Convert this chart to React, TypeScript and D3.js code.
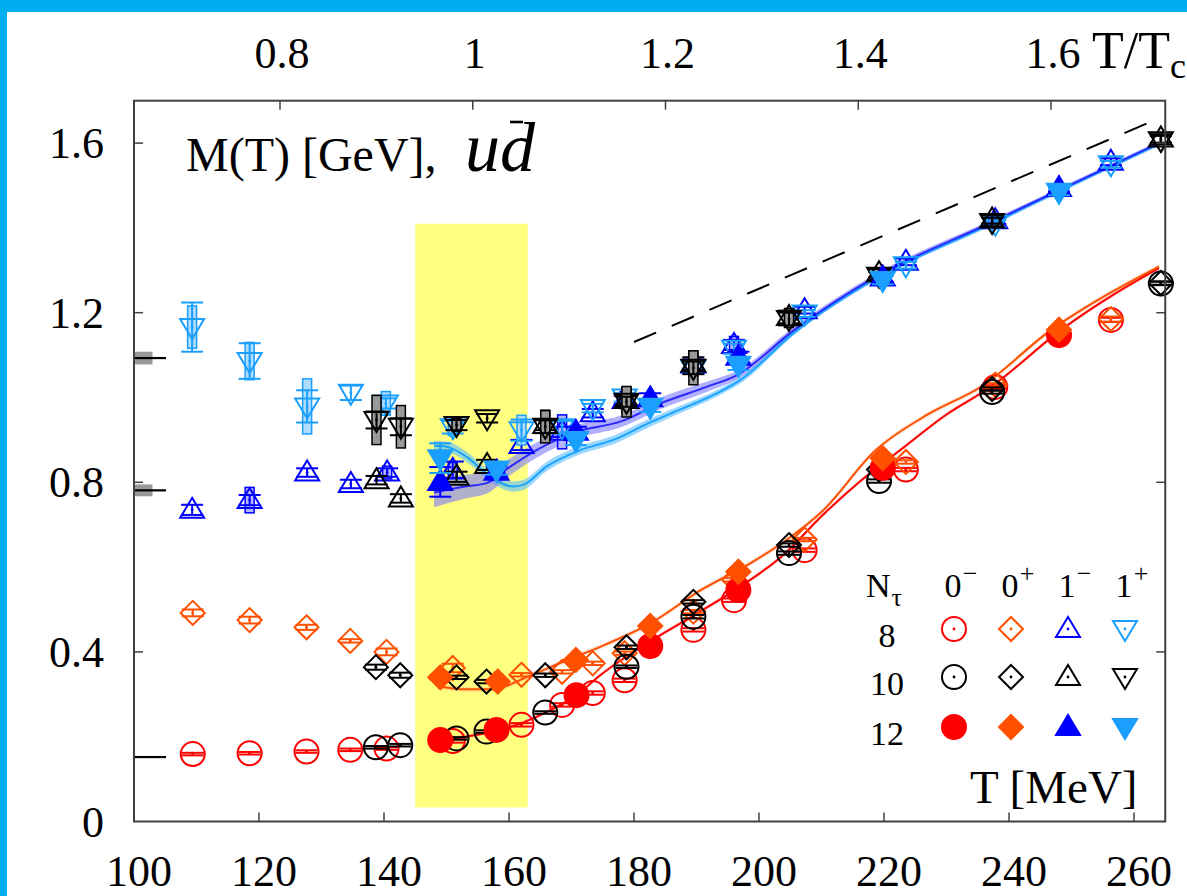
import React from 'react';
import * as d3 from 'd3';

// ---- axes ----
const TC = 154.2; // MeV, pseudo-critical temperature for the T/Tc axis
const tTicks = [120, 140, 160, 180, 200, 220, 240, 260];
const tLabels = [100, 120, 140, 160, 180, 200, 220, 240, 260];
const mTicks = [0.4, 0.8, 1.2, 1.6];
const mLabels = [0, 0.4, 0.8, 1.2, 1.6];
const ratioTicks = [0.8, 1, 1.2, 1.4, 1.6];

// crossover region
const tcBand = { t0: 145, t1: 163, m0: 0.033, m1: 1.41 };

// vacuum masses [M, uncertainty]
const vacuumMasses: [number, number][] = [
  [1.093, 0.015],
  [0.781, 0.014],
  [0.152, 0],
];

// free-field limit 2πT
const freeLimit: [number, number][] = [
  [180, 1.131],
  [262.5, 1.649],
];

// ---- data: [T, M, stat error, systematic half-width] ----
type Pt = number[];

const ps8: Pt[] = [
  [109.4, 0.159, 0.003], [118.5, 0.161, 0.003], [127.6, 0.165, 0.003], [134.6, 0.169, 0.003],
  [140.4, 0.172, 0.003], [151.0, 0.19, 0.004], [162.0, 0.228, 0.004], [168.5, 0.275, 0.004],
  [173.4, 0.303, 0.004], [178.5, 0.333, 0.004], [189.5, 0.452, 0.004], [196.0, 0.522, 0.004],
  [207.3, 0.64, 0.004], [223.5, 0.83, 0.004], [237.8, 1.025, 0.004], [256.3, 1.183, 0.005],
];
const ps10: Pt[] = [
  [138.7, 0.175, 0.003], [142.6, 0.18, 0.003], [151.6, 0.196, 0.003], [156.4, 0.212, 0.003],
  [165.8, 0.257, 0.003], [178.8, 0.365, 0.003], [189.5, 0.483, 0.004], [204.8, 0.633, 0.004],
  [219.2, 0.803, 0.004], [237.3, 1.013, 0.004], [264.3, 1.269, 0.004],
];
const ps12: Pt[] = [
  [149.0, 0.192, 0.003], [158.0, 0.216, 0.003], [170.8, 0.298, 0.003], [182.6, 0.414, 0.003],
  [196.7, 0.546, 0.003], [219.8, 0.834, 0.003], [248.0, 1.147, 0.003],
];

const s8: Pt[] = [
  [109.4, 0.492, 0.008], [118.5, 0.475, 0.008], [127.6, 0.458, 0.006], [134.6, 0.426, 0.004],
  [140.4, 0.4, 0.008], [151.0, 0.362, 0.01], [162.0, 0.346, 0.004], [168.5, 0.353, 0.004],
  [173.4, 0.373, 0.004], [178.5, 0.397, 0.004], [189.5, 0.495, 0.004], [196.0, 0.57, 0.004],
  [207.3, 0.665, 0.004], [223.5, 0.848, 0.004], [237.8, 1.03, 0.004], [256.3, 1.185, 0.006],
];
const s10: Pt[] = [
  [138.7, 0.364, 0.006], [142.6, 0.345, 0.006], [151.6, 0.34, 0.004], [156.4, 0.33, 0.004],
  [165.8, 0.345, 0.004], [178.8, 0.411, 0.004], [189.5, 0.518, 0.004], [204.8, 0.652, 0.004],
  [219.2, 0.83, 0.004], [237.3, 1.02, 0.004], [264.3, 1.27, 0.004],
];
const s12: Pt[] = [
  [149.0, 0.34, 0.004], [158.2, 0.33, 0.004], [170.7, 0.381, 0.004], [182.6, 0.461, 0.004],
  [196.7, 0.589, 0.004], [219.8, 0.857, 0.004], [248.0, 1.16, 0.004],
];

const v8: Pt[] = [
  [109.3, 0.735, 0.012, 0], [118.5, 0.758, 0.012, 0.03], [127.7, 0.823, 0.01, 0], [134.7, 0.796, 0.01, 0],
  [140.5, 0.823, 0.01, 0.015], [151.0, 0.829, 0.02, 0.018], [162.0, 0.888, 0.012, 0], [168.5, 0.919, 0.012, 0.04],
  [173.4, 0.963, 0.01, 0], [178.5, 0.994, 0.01, 0.02], [189.5, 1.078, 0.012, 0.02], [196.0, 1.124, 0.012, 0.02],
  [207.3, 1.206, 0.008, 0], [223.5, 1.32, 0.008, 0], [237.8, 1.418, 0.008, 0], [256.3, 1.556, 0.008, 0],
];
const v10: Pt[] = [
  [138.8, 0.805, 0.01, 0], [142.7, 0.762, 0.01, 0], [151.6, 0.813, 0.012, 0], [156.5, 0.841, 0.012, 0],
  [165.8, 0.935, 0.012, 0.035], [178.8, 0.994, 0.012, 0.03], [189.5, 1.08, 0.015, 0.03], [204.8, 1.19, 0.015, 0.02],
  [219.2, 1.293, 0.01, 0], [237.3, 1.42, 0.01, 0], [264.3, 1.611, 0.01, 0],
];
const v12: Pt[] = [
  [149.0, 0.801, 0.035], [158.0, 0.825, 0.012], [170.7, 0.919, 0.012], [182.6, 0.998, 0.012],
  [196.7, 1.096, 0.012], [219.8, 1.283, 0.01], [248.0, 1.494, 0.008],
];

const av8: Pt[] = [
  [109.3, 1.166, 0.058, 0.05], [118.5, 1.086, 0.042, 0.044], [127.7, 0.979, 0.038, 0.065], [134.7, 1.011, 0.017, 0],
  [140.3, 0.986, 0.012, 0.028], [151.0, 0.93, 0.015, 0.02], [162.0, 0.923, 0.025, 0.035], [168.5, 0.93, 0.015, 0],
  [173.4, 0.975, 0.01, 0], [178.5, 1.0, 0.01, 0], [189.5, 1.068, 0.012, 0], [196.0, 1.115, 0.012, 0],
  [207.3, 1.198, 0.008, 0], [223.5, 1.312, 0.008, 0], [237.8, 1.41, 0.008, 0], [256.3, 1.55, 0.008, 0],
];
const av10: Pt[] = [
  [138.8, 0.947, 0.02, 0.058], [142.7, 0.931, 0.02, 0.05], [151.6, 0.935, 0.012, 0.015], [156.5, 0.951, 0.01, 0],
  [165.8, 0.931, 0.015, 0.038], [178.8, 0.99, 0.012, 0.036], [189.5, 1.07, 0.015, 0.04], [204.8, 1.185, 0.015, 0.02],
  [219.2, 1.287, 0.01, 0], [237.3, 1.414, 0.01, 0], [264.3, 1.607, 0.01, 0],
];
const av12: Pt[] = [
  [149.0, 0.857, 0.035], [158.0, 0.83, 0.012], [170.7, 0.9, 0.012], [182.6, 0.978, 0.012],
  [196.7, 1.077, 0.012], [219.8, 1.277, 0.01], [248.0, 1.485, 0.008],
];

// ---- interpolating curves: [T, M, band half-width] ----
const vCurve: Pt[] = [
  [148, 0.776, 0.035], [150, 0.782, 0.032], [153, 0.79, 0.028], [156.4, 0.798, 0.025], [160.2, 0.837, 0.02],
  [164.4, 0.876, 0.018], [170.8, 0.919, 0.016], [177.8, 0.943, 0.014], [184.2, 0.986, 0.014],
  [191.6, 1.025, 0.012], [196.5, 1.053, 0.01], [205.6, 1.159, 0.008], [218.7, 1.285, 0.007],
  [236.9, 1.411, 0.006], [248, 1.489, 0.005], [256.5, 1.548, 0.005], [264, 1.6, 0.005],
];
const avCurve: Pt[] = [
  [148, 0.886, 0.012], [150, 0.884, 0.012], [153.2, 0.86, 0.012], [157, 0.813, 0.012], [160.7, 0.79, 0.012],
  [162.3, 0.794, 0.012], [166, 0.837, 0.011], [171.4, 0.876, 0.01], [176.7, 0.9, 0.01], [182, 0.937, 0.01],
  [186.3, 0.965, 0.009], [193.8, 1.014, 0.008], [197, 1.041, 0.008], [205.6, 1.153, 0.006],
  [218.7, 1.281, 0.005], [236.9, 1.408, 0.005], [248, 1.487, 0.005], [256.5, 1.546, 0.005], [264, 1.598, 0.005],
];
const sCurve: Pt[] = [
  [149, 0.318, 0.006], [153, 0.312, 0.006], [157.5, 0.312, 0.006], [160, 0.322, 0.006], [163, 0.342, 0.006],
  [166, 0.36, 0.006], [170, 0.385, 0.006], [174.6, 0.412, 0.006], [182.6, 0.467, 0.006], [190.6, 0.545, 0.006],
  [198.6, 0.609, 0.006], [204.4, 0.664, 0.006], [210, 0.73, 0.006], [218.7, 0.876, 0.006], [227, 0.96, 0.006],
  [235.6, 1.026, 0.006], [246.7, 1.159, 0.006], [256.1, 1.246, 0.006], [264, 1.309, 0.006],
];
const psCurve: Pt[] = [
  [149, 0.192, 0.005], [153, 0.2, 0.005], [158, 0.214, 0.005], [162, 0.232, 0.005], [166, 0.258, 0.005],
  [170.8, 0.298, 0.005], [174.6, 0.345, 0.005], [182.6, 0.425, 0.005], [190, 0.49, 0.005], [197, 0.554, 0.005],
  [204, 0.63, 0.005], [210, 0.72, 0.005], [216, 0.8, 0.005], [222.6, 0.876, 0.005], [230, 0.96, 0.005],
  [237.2, 1.026, 0.005], [248.3, 1.159, 0.005], [257.1, 1.246, 0.005], [264, 1.305, 0.005],
];

// ---- styling ----
const RED = '#ff0000';
const ORANGE = '#ff5000';
const BLUE = '#0000ff';
const LBLUE = '#1a9fff';
const BLACK = '#000000';
const FONT = '"Liberation Serif", "Times New Roman", serif';

type Shape = 'circle' | 'diamond' | 'up' | 'down';
interface Series {
  data: Pt[];
  shape: Shape;
  color: string;
  filled: boolean;
  boxFill?: string;
  boxStroke?: string;
}

const seriesList: Series[] = [
  { data: ps8, shape: 'circle', color: RED, filled: false },
  { data: s8, shape: 'diamond', color: ORANGE, filled: false },
  { data: v8, shape: 'up', color: BLUE, filled: false, boxFill: '#b4b4ff', boxStroke: BLUE },
  { data: av8, shape: 'down', color: LBLUE, filled: false, boxFill: '#b0dcff', boxStroke: LBLUE },
  { data: ps10, shape: 'circle', color: BLACK, filled: false },
  { data: s10, shape: 'diamond', color: BLACK, filled: false },
  { data: v10, shape: 'up', color: BLACK, filled: false, boxFill: '#9a9a9a', boxStroke: BLACK },
  { data: av10, shape: 'down', color: BLACK, filled: false, boxFill: '#9a9a9a', boxStroke: BLACK },
  { data: ps12, shape: 'circle', color: RED, filled: true },
  { data: s12, shape: 'diamond', color: ORANGE, filled: true },
  { data: v12, shape: 'up', color: BLUE, filled: true },
  { data: av12, shape: 'down', color: LBLUE, filled: true },
];

const x = d3.scaleLinear().domain([100, 265]).range([134, 1165.25]);
const y = d3.scaleLinear().domain([0, 1.7]).range([821.5, 100.7]);

function shapePath(shape: Shape): string {
  const p = d3.path();
  if (shape === 'circle') {
    p.arc(0, 0, 12, 0, Math.PI * 2);
  } else if (shape === 'diamond') {
    p.moveTo(0, -12); p.lineTo(12, 0); p.lineTo(0, 12); p.lineTo(-12, 0); p.closePath();
  } else if (shape === 'up') {
    p.moveTo(0, -12); p.lineTo(12, 8); p.lineTo(-12, 8); p.closePath();
  } else {
    p.moveTo(0, 12); p.lineTo(12, -8); p.lineTo(-12, -8); p.closePath();
  }
  return p.toString();
}

function Marker({ shape, color, filled, cx, cy }: { shape: Shape; color: string; filled: boolean; cx: number; cy: number }) {
  return (
    <g transform={`translate(${cx},${cy})`}>
      <path d={shapePath(shape)} fill={filled ? color : 'none'} stroke={color} strokeWidth={2} />
      {!filled && <circle r={1.4} fill={color} />}
    </g>
  );
}

function SeriesMarks({ s }: { s: Series }) {
  return (
    <g>
      {s.data.map((d, i) => {
        const cx = x(d[0]);
        const cy = y(d[1]);
        const err = d[2] || 0;
        const sys = d[3] || 0;
        const yt = y(d[1] + err);
        const yb = y(d[1] - err);
        return (
          <g key={i}>
            {sys > 0 && (
              <rect x={cx - 4.5} y={y(d[1] + sys)} width={9} height={y(d[1] - sys) - y(d[1] + sys)}
                fill={s.boxFill} stroke={s.boxStroke} strokeWidth={1.5} />
            )}
            <line x1={cx} x2={cx} y1={yt} y2={yb} stroke={s.color} strokeWidth={2} />
            <line x1={cx - 11} x2={cx + 11} y1={yt} y2={yt} stroke={s.color} strokeWidth={2} />
            <line x1={cx - 11} x2={cx + 11} y1={yb} y2={yb} stroke={s.color} strokeWidth={2} />
            <Marker shape={s.shape} color={s.color} filled={s.filled} cx={cx} cy={cy} />
          </g>
        );
      })}
    </g>
  );
}

const bandArea = d3.area<Pt>()
  .x((d) => x(d[0]))
  .y0((d) => y(d[1] - d[2]))
  .y1((d) => y(d[1] + d[2]))
  .curve(d3.curveMonotoneX);
const centerLine = d3.line<Pt>()
  .x((d) => x(d[0]))
  .y((d) => y(d[1]))
  .curve(d3.curveMonotoneX);

const curves = [
  { data: psCurve, line: RED, band: '#ff9a9a', op: 0.35 },
  { data: sCurve, line: ORANGE, band: '#ffb08a', op: 0.35 },
  { data: avCurve, line: '#18a4ff', band: '#5cbcff', op: 0.6 },
  { data: vCurve, line: '#2a2aff', band: '#7c7cff', op: 0.6 },
];

// legend layout
const legendCols: { label: string; sup: string; shape: Shape; colors: string[] }[] = [
  { label: '0', sup: '−', shape: 'circle', colors: [RED, BLACK, RED] },
  { label: '0', sup: '+', shape: 'diamond', colors: [ORANGE, BLACK, ORANGE] },
  { label: '1', sup: '−', shape: 'up', colors: [BLUE, BLACK, BLUE] },
  { label: '1', sup: '+', shape: 'down', colors: [LBLUE, BLACK, LBLUE] },
];
const legendRows = ['8', '10', '12'];

export default function App() {
  const left = x(100);
  const right = x(265);
  const top = y(1.7);
  const bottom = y(0);
  const colX = [954, 1011, 1068, 1125];
  const rowY = [629, 677, 727];

  return (
    <svg width={1187} height={896} style={{ position: 'absolute', left: 0, top: 0, background: '#fff' }}
      fontFamily={FONT}>
      <rect x={0} y={0} width={1187} height={896} fill="#ffffff" />

      {/* crossover band */}
      <rect x={x(tcBand.t0)} y={y(tcBand.m1)} width={x(tcBand.t1) - x(tcBand.t0)}
        height={y(tcBand.m0) - y(tcBand.m1)} fill="#ffff80" />

      {/* vacuum reference masses */}
      {vacuumMasses.map(([m, e], i) => (
        <g key={i}>
          {e > 0 && <rect x={left} y={y(m + e)} width={18.5} height={y(m - e) - y(m + e)} fill="#9a9a9a" />}
          <line x1={left} x2={left + 32} y1={y(m)} y2={y(m)} stroke="#000" strokeWidth={2.2} />
        </g>
      ))}

      {/* fit bands and lines */}
      {curves.map((c, i) => (
        <path key={`b${i}`} d={bandArea(c.data) || ''} fill={c.band} opacity={c.op} />
      ))}
      {curves.map((c, i) => (
        <path key={`l${i}`} d={centerLine(c.data) || ''} fill="none" stroke={c.line} strokeWidth={2} />
      ))}

      {/* free limit */}
      <line x1={x(freeLimit[0][0])} y1={y(freeLimit[0][1])} x2={x(freeLimit[1][0])} y2={y(freeLimit[1][1])}
        stroke="#000" strokeWidth={2} strokeDasharray="24,17" />

      {/* data */}
      {seriesList.map((s, i) => <SeriesMarks key={i} s={s} />)}

      {/* frame */}
      <rect x={left} y={top} width={right - left} height={bottom - top} fill="none" stroke="#404040" strokeWidth={2} />

      {/* bottom axis */}
      {tTicks.map((t) => (
        <line key={t} x1={x(t)} x2={x(t)} y1={bottom} y2={bottom - 9} stroke="#404040" strokeWidth={1.5} />
      ))}
      {tLabels.map((t) => (
        <text key={t} x={x(t) + 5} y={886} fontSize={44} textAnchor="middle" fill="#000">{t}</text>
      ))}

      {/* left / right axis */}
      {mTicks.map((m) => (
        <g key={m}>
          <line x1={left} x2={left + 9} y1={y(m)} y2={y(m)} stroke="#404040" strokeWidth={1.5} />
          <line x1={right} x2={right - 9} y1={y(m)} y2={y(m)} stroke="#404040" strokeWidth={1.5} />
        </g>
      ))}
      {mLabels.map((m) => (
        <text key={m} x={104} y={y(m) + 15} fontSize={44} textAnchor="end" fill="#000">{m === 0 ? '0' : m.toFixed(1)}</text>
      ))}

      {/* top axis: T/Tc */}
      {ratioTicks.map((r) => (
        <g key={r}>
          <line x1={x(r * TC)} x2={x(r * TC)} y1={top} y2={top + 9} stroke="#404040" strokeWidth={1.5} />
          <text x={x(r * TC) + 2} y={68} fontSize={44} textAnchor="middle" fill="#000">{String(r)}</text>
        </g>
      ))}
      <text x={1092} y={68} fontSize={52} fill="#000">T/T<tspan dy={10} fontSize={36}>c</tspan></text>

      {/* title */}
      <text x={186} y={171} fontSize={48} fill="#000">M(T) [GeV],</text>
      <text x={465} y={171} fontSize={70} fontStyle="italic" fill="#000">ud</text>
      <line x1={510} x2={523} y1={122} y2={122} stroke="#000" strokeWidth={2.6} />

      {/* legend */}
      <text x={866} y={597} fontSize={34} fill="#000">N<tspan dx={1} dy={9} fontSize={26}>τ</tspan></text>
      {legendCols.map((c, j) => (
        <g key={j}>
          <text x={colX[j] - 1} y={597} fontSize={34} textAnchor="middle" fill="#000">{c.label}</text>
          <text x={colX[j] + 16} y={582} fontSize={26} textAnchor="middle" fill="#000">{c.sup}</text>
        </g>
      ))}
      {legendRows.map((r, i) => (
        <text key={r} x={887} y={rowY[i] + 18} fontSize={34} textAnchor="middle" fill="#000">{r}</text>
      ))}
      {legendCols.map((c, j) =>
        legendRows.map((r, i) => (
          <Marker key={`${j}-${i}`} shape={c.shape} color={c.colors[i]} filled={i === 2} cx={colX[j]} cy={rowY[i]} />
        ))
      )}
      <text x={970} y={803} fontSize={47} fill="#000">T [MeV]</text>

      {/* page border */}
      <rect x={0} y={0} width={1187} height={12} fill="#00aeef" />
      <rect x={0} y={0} width={7} height={896} fill="#00aeef" />
    </svg>
  );
}
